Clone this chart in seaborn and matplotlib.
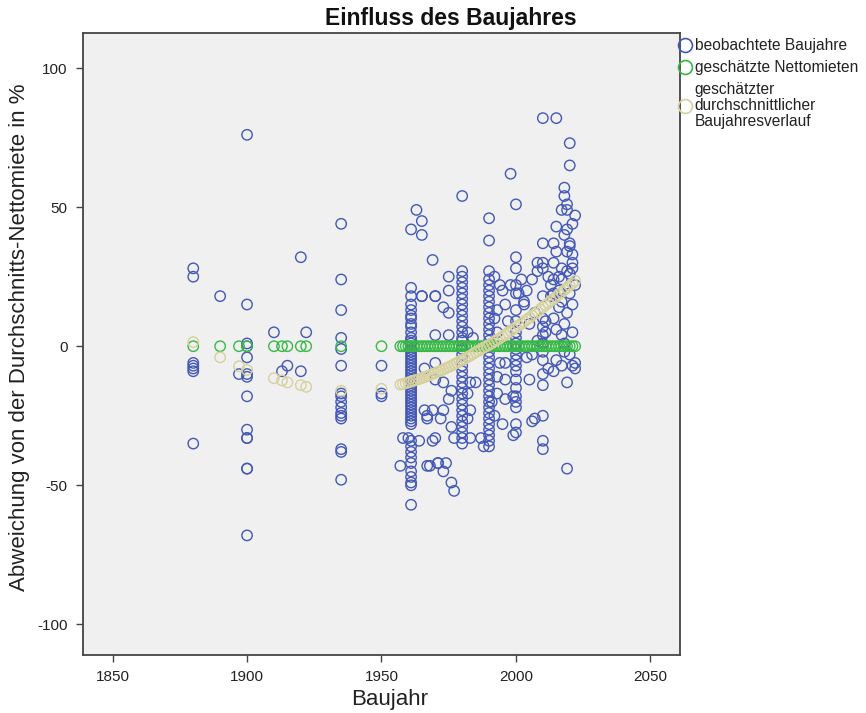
import matplotlib
matplotlib.use("Agg")
import matplotlib.pyplot as plt
from matplotlib.lines import Line2D
import seaborn as sns
import pandas as pd

# ---------------- data ----------------
title = "Einfluss des Baujahres"
x_label = "Baujahr"
y_label = "Abweichung von der Durchschnitts-Nettomiete in %"
legend_labels = ["beobachtete Baujahre", "geschätzte Nettomieten",
                 "geschätzter\ndurchschnittlicher\nBaujahresverlauf"]
x_ticks = [1850, 1900, 1950, 2000, 2050]
y_ticks = [-100, -50, 0, 50, 100]

# observed deviations (blue), grouped by construction year
obs_year = (
    [1880] * 7 + [1890] + [1897] + [1900] * 14 + [1910, 1913, 1915, 1920, 1920, 1922]
    + [1935] * 16 + [1950] * 3 + [1957, 1958, 1960]
    + [1961] * 51
    + [1963, 1965, 1961, 1965, 1965, 1967, 1967, 1970, 1971, 1970]
    + [1969, 1965, 1970, 1975, 1975, 1973, 1975, 1970, 1970, 1966, 1970, 1973, 1976,
       1975, 1966, 1969, 1973, 1967, 1972, 1976, 1977, 1969, 1964, 1968, 1971, 1974,
       1973, 1976, 1977, 1975]
    + [1980] * 34
    + [1982, 1984, 1983, 1982, 1985, 1983, 1982, 1983, 1987, 1988]
    + [1990] * 34
    + [1992, 1993, 1994, 1996, 1993, 1996, 1993, 1996, 1999, 1995, 1999]
    + [1992, 1994, 1995, 1996, 1997, 1993, 1991, 1992]
    + [1998] + [2000] * 22
    + [1998, 2001, 2002, 2006, 2008, 2007, 2006]
    + [2003, 2004, 2005, 2006, 2007, 2008, 2011, 2012, 2013, 2003, 2005, 2008,
       2011, 2012, 2013, 2004]
    + [2010] * 16
    + [2018, 2018, 2019, 2019, 2017, 2021, 2019, 2015, 2014, 2020, 2019, 2015, 2014,
       2021, 2017, 2019, 2021, 2017, 2014, 2014, 2020, 2017, 2016, 2021, 2014, 2018,
       2015, 2017, 2021, 2018, 2015, 2021, 2022, 2017, 2014, 2019, 2019, 2015, 2020,
       2020, 2022, 2018, 2016, 2020, 2022, 2019, 2021, 2018, 2020, 2016, 2022, 2020]
)
obs_dev = (
    [28, 25, -6, -7, -8, -9, -35] + [18] + [-10]
    + [76, 15, 1, 0, -4, -10, -11, -18, -30, -33, -33, -44, -44, -68]
    + [5, -9, -7, 32, -9, 5]
    + [44, 24, 13, 3, -1, -7, -17, -18, -20, -22, -24, -25, -26, -37, -38, -48]
    + [-7, -17, -18] + [-43, -33, -33]
    + [21, 18, 15, 13, 11, 10, 8, 7, 5, 3, 2, 1, 0, -1, -2, -3, -4, -5, -6, -7, -8,
       -9, -10, -11, -12, -13, -14, -15, -16, -17, -18, -19, -20, -21, -22, -23, -24,
       -25, -26, -27, -28, -34, -36, -38, -40, -42, -45, -47, -49, -50, -57]
    + [49, 45, 42, 40, 18, -25, -43, -33, -42, 18]
    + [31, 18, 18, 25, 20, 14, 12, 4, -6, -8, -12, -13, -16, -19, -23, -23, -23, -26,
       -26, -29, -33, -34, -34, -43, -42, -42, -45, -49, -52, 4]
    + [54, 27, 25, 23, 21, 19, 17, 15, 13, 11, 9, 7, 5, 3, 2, 0, -1, -3, -5, -7, -9,
       -11, -13, -15, -17, -19, -21, -23, -25, -27, -29, -31, -33, -35]
    + [5, 3, -13, -17, -13, -23, -26, -33, -33, -36]
    + [46, 38, 27, 24, 22, 20, 18, 16, 14, 12, 10, 8, 6, 4, 2, 0, -2, -4, -6, -8, -10,
       -12, -14, -16, -18, -20, -22, -24, -26, -28, -30, -32, -34, -36]
    + [10, 5, -6, -6, -11, -12, -17, -19, -18, -28, -32]
    + [25, 22, 20, 15, 9, 13, -20, -25]
    + [62] + [51, 32, 28, 22, 19, 13, 9, 5, 3, 1, -1, -3, -5, -7, -9, -12, -15, -18,
              -20, -22, -28, -31]
    + [22, 19, 24, 24, 30, -26, -27]
    + [15, 20, 8, -3, 12, 27, 5, -8, 22, 16, -12, 2, 9, 25, 18, -4]
    + [82, 37, 30, 28, 18, 10, 7, 4, 1, -2, -5, -10, -14, -25, -34, -37]
    + [57, 54, 51, 49, 49, 44, 42, 43, 37, 37, 34, 34, 30, 30, 28, 27, 28, 24, 24, 19,
       19, 16, 14, 15, 10, 8, 6, 4, 5, -2, -5, -7, -8, -7, -9, -13, -44, 82, 73,
       65, 47, 40, 25, 36, 22, 12, 33, 1, -3, 20, -6, 26]
)

# fitted values (green = flat estimate, beige = average year trend)
fit_year = [1880, 1890, 1897, 1900, 1910, 1913, 1915, 1920, 1922, 1935, 1950,
            1957, 1958, 1959, 1960, 1961, 1962, 1963, 1964, 1965, 1966, 1967, 1968,
            1969, 1970, 1971, 1972, 1973, 1974, 1975, 1976, 1977, 1978, 1979, 1980,
            1981, 1982, 1983, 1984, 1985, 1986, 1987, 1988, 1989, 1990, 1991, 1992,
            1993, 1994, 1995, 1996, 1997, 1998, 1999, 2000, 2001, 2002, 2003, 2004,
            2005, 2006, 2007, 2008, 2009, 2010, 2011, 2012, 2013, 2014, 2015, 2016,
            2017, 2018, 2019, 2020, 2021, 2022]
green_dev = [0] * len(fit_year)
beige_dev = [1.5, -4.0, -7.2, -8.5, -11.5, -12.3, -13.0, -14.0, -14.6, -16.0, -15.3,
             -13.8, -13.6, -13.3, -13.0, -12.7, -12.4, -12.1, -11.8, -11.5, -11.1,
             -10.7, -10.4, -10.0, -9.6, -9.2, -8.8, -8.4, -7.9, -7.5, -7.0, -6.5,
             -6.0, -5.5, -5.0, -4.5, -3.9, -3.4, -2.8, -2.2, -1.7, -1.1, -0.5, 0.0,
             0.5, 1.1, 1.7, 2.3, 2.9, 3.5, 4.2, 4.8, 5.5, 6.1, 6.8, 7.5, 8.1, 8.8,
             9.5, 10.2, 11.0, 11.7, 12.5, 13.2, 14.0, 14.8, 15.5, 16.3, 17.0, 17.8,
             18.6, 19.4, 20.2, 21.0, 21.8, 22.6, 23.5]

# ---------------- style ----------------
sns.set_style("ticks")
plt.rcParams["font.family"] = ["Liberation Sans", "DejaVu Sans"]

BLUE = "#4358B6"
GREEN = "#38B946"
BEIGE = "#D6D19C"
FRAME = "#444444"

W, H = 866, 713
fig = plt.figure(figsize=(W / 100, H / 100), dpi=100, facecolor="white")
ax = fig.add_axes([83 / W, 58 / H, 597 / W, 622 / H])
ax.set_facecolor("#F0F0F0")

obs = pd.DataFrame({"Baujahr": obs_year, "dev": obs_dev})
fit = pd.DataFrame({"Baujahr": fit_year, "green": green_dev, "beige": beige_dev})

mk = dict(marker="o", s=56, linewidth=1.0, facecolor="none")
sns.scatterplot(data=obs, x="Baujahr", y="dev", ax=ax, color=BLUE, edgecolor=BLUE, **mk)
sns.scatterplot(data=fit, x="Baujahr", y="green", ax=ax, color=GREEN, edgecolor=GREEN, **mk)
sns.scatterplot(data=fit, x="Baujahr", y="beige", ax=ax, color=BEIGE, edgecolor=BEIGE, **mk)

ax.set_xlim(1839, 2061)
ax.set_ylim(-111, 112.6)
ax.set_xticks(x_ticks)
ax.set_yticks(y_ticks)
ax.set_xticklabels([str(t) for t in x_ticks])
ax.set_yticklabels([str(t) for t in y_ticks])
ax.tick_params(axis="both", direction="out", length=5, width=1, color=FRAME,
               labelsize=11, labelcolor="#222222", pad=6)
ax.set_xlabel("")
ax.set_ylabel("")
for sp in ax.spines.values():
    sp.set_visible(True)
    sp.set_color(FRAME)
    sp.set_linewidth(1.3)

fig.text(451 / W, 1 - 18 / H, title, ha="center", va="center",
         fontsize=16.5, fontweight="bold", color="#111111")
fig.text(390 / W, 1 - 700 / H, x_label, ha="center", va="center",
         fontsize=16, color="#222222")
fig.text(20 / W, 1 - 337 / H, y_label, ha="center", va="center", rotation=90,
         fontsize=16, color="#222222")

handles = [Line2D([], [], linestyle="none", marker="o", markersize=10,
                  markerfacecolor="none", markeredgecolor=c, markeredgewidth=1.2)
           for c in (BLUE, GREEN, BEIGE)]
leg = fig.legend(handles, legend_labels, loc="upper left",
                 bbox_to_anchor=(680 / W, 1 - 38 / H), frameon=False,
                 fontsize=11.2, handlelength=0.6, handletextpad=0.35,
                 borderpad=0, borderaxespad=0, labelspacing=0.45)
for t in leg.get_texts():
    t.set_linespacing(1.1)
    t.set_color("#222222")

fig.savefig("out.png", dpi=100, facecolor="white")
